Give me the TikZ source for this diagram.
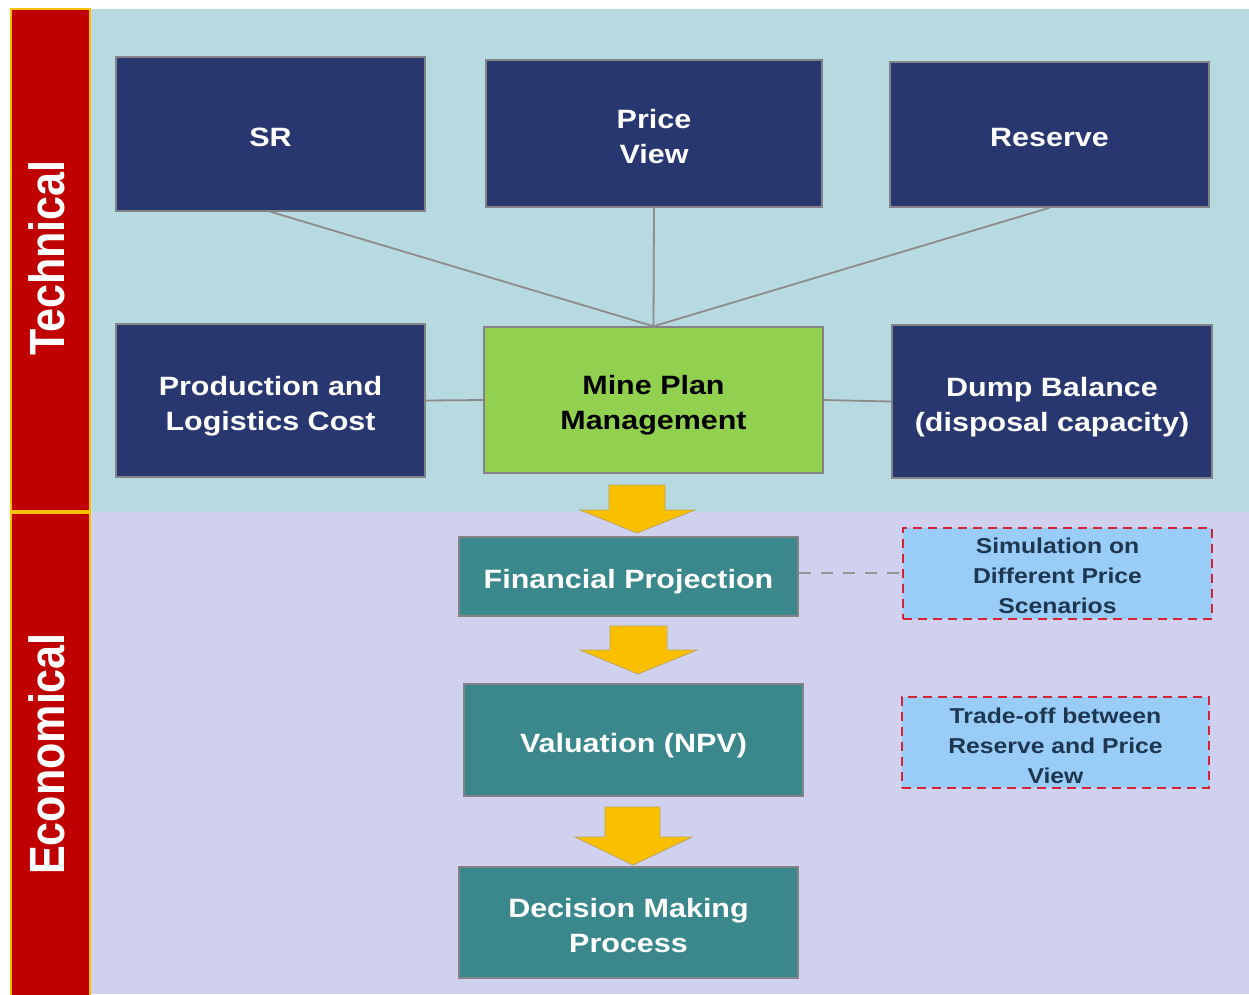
\documentclass[tikz,border=0pt]{standalone}
\usepackage{fontspec}
\setmainfont{Liberation Sans}[FakeStretch=1.15]
\newfontfamily\vfont{Liberation Sans}[FakeStretch=0.87]
\newcommand\mlines[1]{\begin{tabular}[t]{@{}c@{}}#1\end{tabular}}
\definecolor{navy}{RGB}{40,55,112}
\definecolor{topbg}{RGB}{183,217,224}
\definecolor{lowbg}{RGB}{208,208,239}
\definecolor{barred}{RGB}{192,0,0}
\definecolor{barorange}{RGB}{255,192,0}
\definecolor{mpgreen}{RGB}{146,208,80}
\definecolor{tealbox}{RGB}{58,136,140}
\definecolor{arrowyellow}{RGB}{250,192,0}
\definecolor{arrowedge}{RGB}{190,165,90}
\definecolor{simfill}{RGB}{153,204,246}
\definecolor{dashred}{RGB}{210,35,55}
\definecolor{boxedge}{RGB}{130,130,135}
\definecolor{linkgrey}{RGB}{140,140,140}
\definecolor{dashgrey}{RGB}{150,150,150}
\definecolor{notetext}{RGB}{30,55,80}
\tikzset{
  navybox/.style={rectangle, fill=navy, draw=boxedge, line width=1.5pt, text=white,
    font=\bfseries\fontsize{26.5}{35}\selectfont, inner sep=0pt, text height=24.5pt, text depth=0pt},
  twolines/.style={text depth=35pt},
  greenbox/.style={navybox, fill=mpgreen, text=black},
  tealstep/.style={navybox, fill=tealbox},
  notebox/.style={rectangle, fill=simfill, draw=dashred, line width=2pt, dash pattern=on 9pt off 6pt,
    text=notetext, font=\bfseries\fontsize{21.5}{30}\selectfont, inner sep=0pt,
    text height=21.5pt, text depth=60pt},
  link/.style={draw=linkgrey, line width=1.8pt},
  bararea/.style={fill=barred, draw=barorange, line width=2pt},
  blockarrow/.style={fill=arrowyellow, draw=arrowedge, line width=0.8pt, line join=miter},
  vlabel/.style={rotate=90, text=white, font=\vfont\bfseries\fontsize{49.5}{50}\selectfont, inner sep=0pt}
}
\begin{document}
\begin{tikzpicture}[x=1pt,y=-1pt]
\useasboundingbox (0,0) rectangle (1249,994);
% backgrounds
\fill[white] (0,0) rectangle (1249,994);
\fill[topbg] (91,9) rectangle (1249,512);
\fill[lowbg] (91,512) rectangle (1249,994);
\path[bararea] (11,9) rectangle (90,511);
\path[bararea] (11,513) rectangle (90,1000);
\node[vlabel] (tech) at (47,258) {Technical};
\node[vlabel] (econ) at (47,754) {Economical};
% top nodes
\node[navybox, minimum width=309pt, minimum height=154pt] (sr) at (270.5,134) {SR};
\node[navybox, twolines, minimum width=336pt, minimum height=147pt] (pv) at (654,133.5) {\mlines{Price\\View}};
\node[navybox, minimum width=319pt, minimum height=145pt] (res) at (1049.5,134.5) {Reserve};
\node[navybox, twolines, minimum width=309pt, minimum height=153pt] (plc) at (270.5,400.5) {\mlines{Production and\\Logistics Cost}};
\node[greenbox, twolines, minimum width=339pt, minimum height=146pt] (mpm) at (653.5,400) {\mlines{Mine Plan\\Management}};
\node[navybox, twolines, minimum width=320pt, minimum height=153pt] (dump) at (1052,401.5) {\mlines{Dump Balance\\(disposal capacity)}};
% connectors
\draw[link] (sr.south) -- (mpm.north);
\draw[link] (pv.south) -- (mpm.north);
\draw[link] (res.south) -- (mpm.north);
\draw[link] (plc.east) -- (mpm.west);
\draw[link] (mpm.east) -- (dump.west);
% lower nodes
\node[tealstep, minimum width=339pt, minimum height=79pt] (fp) at (628.5,576.5) {Financial Projection};
\node[tealstep, minimum width=339pt, minimum height=112pt] (val) at (633.5,740) {Valuation (NPV)};
\node[tealstep, twolines, minimum width=339pt, minimum height=111pt] (dec) at (628.5,922.5) {\mlines{Decision Making\\Process}};
\node[notebox, minimum width=309pt, minimum height=91pt] (sim) at (1057.5,573) {\mlines{Simulation on\\Different Price\\Scenarios}};
\node[notebox, minimum width=307pt, minimum height=91pt] (trade) at (1055.5,742.5) {\mlines{Trade-off between\\Reserve and Price\\View}};
\draw[draw=dashgrey, line width=2.5pt, dash pattern=on 12pt off 10pt] (fp.east |- sim.west) -- (sim.west);
% block arrows
\path[blockarrow] (609,485) -- (665,485) -- (665,510) -- (695,510) -- (637,533) -- (580,510) -- (609,510) -- cycle;
\path[blockarrow] (610,626) -- (667,626) -- (667,650) -- (697,650) -- (638,674) -- (580,650) -- (610,650) -- cycle;
\path[blockarrow] (605,807) -- (660,807) -- (660,837) -- (692,837) -- (633,865) -- (575,837) -- (605,837) -- cycle;
\end{tikzpicture}
\end{document}
